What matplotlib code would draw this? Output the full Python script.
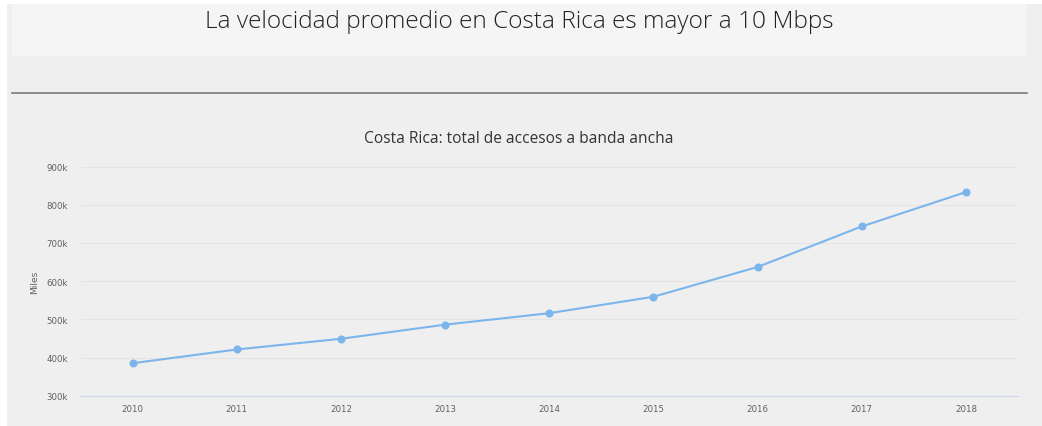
import matplotlib
matplotlib.use("Agg")
from matplotlib import pyplot as plt
from matplotlib.patches import Rectangle
from matplotlib.lines import Line2D
from matplotlib.ticker import FuncFormatter

years = ["2010", "2011", "2012", "2013", "2014", "2015", "2016", "2017", "2018"]
accesos = [385, 421, 449, 486, 516, 559, 637, 743, 833]  # miles
y_ticks = [300, 400, 500, 600, 700, 800, 900]

W, H = 1042, 427


def px_box(x0, y0, x1, y1):
    # pixel box (top-left origin) -> figure fraction rect
    return (x0 / W, 1 - y1 / H, (x1 - x0) / W, (y1 - y0) / H)


fig = plt.figure(figsize=(W / 100, H / 100), dpi=100, facecolor="white")

# page panels, kept behind the axes
x, y, w, h = px_box(7, 5, W, H)
fig.patches.append(Rectangle((x, y), w, h, transform=fig.transFigure, facecolor="#efefef", edgecolor="none", zorder=-2))
x, y, w, h = px_box(12, 5, 1026, 57)
fig.patches.append(Rectangle((x, y), w, h, transform=fig.transFigure, facecolor="#f5f5f5", edgecolor="none", zorder=-1))
fig.lines.append(Line2D([12 / W, 1027 / W], [1 - 93.5 / H] * 2, transform=fig.transFigure, color="#7a7a7a",
                        linewidth=1.2, zorder=-1))

fig.text(519 / W, 1 - 22 / H, "La velocidad promedio en Costa Rica es mayor a 10 Mbps",
         ha="center", va="center", fontsize=17.6, family="Open Sans", fontweight="light", color="#222222")

ax = fig.add_axes(px_box(80.5, 167.5, 1018, 396.7))
ax.set_facecolor("none")

xs = list(range(len(years)))
ax.plot(xs, accesos, color="#7cb5ec", linewidth=1.5, marker="o", markersize=4.8, zorder=3)

ax.set_xlim(-0.5, len(years) - 0.5)
ax.set_ylim(300, 900)
ax.set_xticks(xs)
ax.set_xticklabels(years)
ax.set_yticks(y_ticks)
ax.yaxis.set_major_formatter(FuncFormatter(lambda v, p: f"{int(v)}k"))
ax.grid(axis="y", color="#e4e4e4", linewidth=0.8)
ax.set_axisbelow(True)

for side in ["top", "right", "left"]:
    ax.spines[side].set_visible(False)
ax.spines["bottom"].set_color("#ccd6eb")
ax.spines["bottom"].set_linewidth(0.8)

ax.tick_params(axis="both", length=0, labelsize=6.2, labelcolor="#606060")
ax.tick_params(axis="y", pad=9)
ax.tick_params(axis="x", pad=6)
ax.set_ylabel("Miles", fontsize=6.5, color="#606060", labelpad=5)

fig.text(519 / W, 1 - 139 / H, "Costa Rica: total de accesos a banda ancha",
         ha="center", va="center", fontsize=11.2, family="Open Sans", color="#333333")

plt.savefig("out.png", dpi=100, facecolor=fig.get_facecolor())
